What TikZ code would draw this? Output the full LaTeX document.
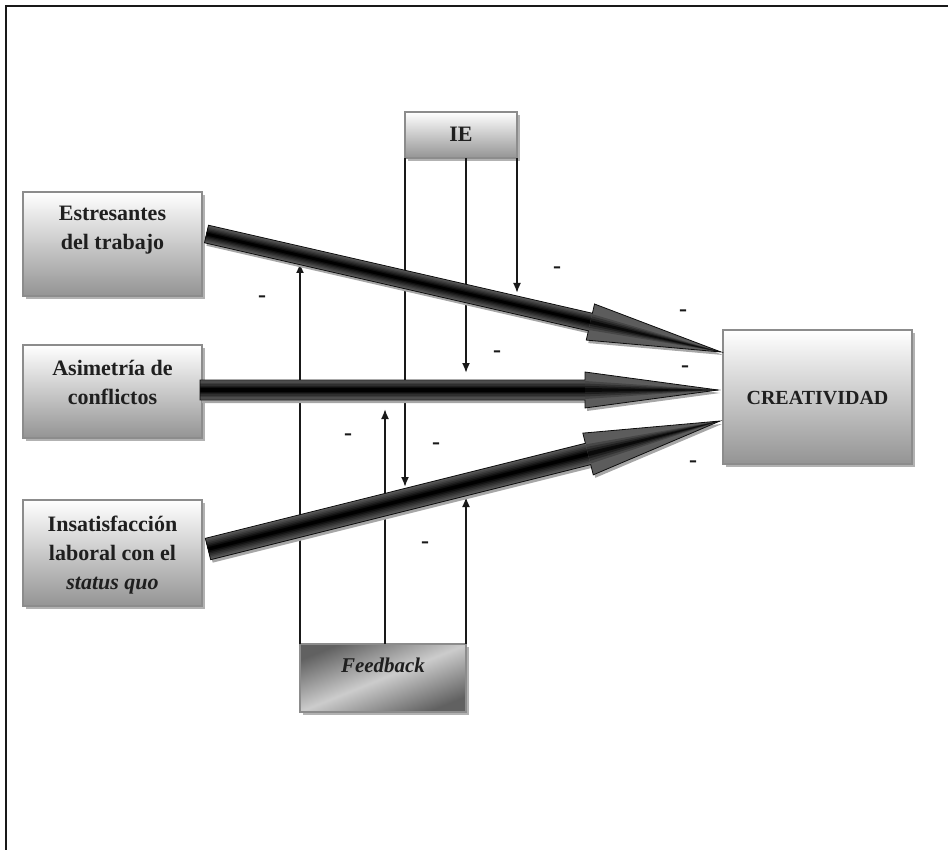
\documentclass[tikz,border=0pt]{standalone}
\usepackage{fontspec}
\setmainfont{Liberation Serif}
\usetikzlibrary{calc,arrows.meta,shadows}

\tikzset{
  boxshape/.style={draw=black!45, line width=1.4pt, top color=white, bottom color=black!42,
    inner sep=0pt, outer sep=0pt, drop shadow={shadow xshift=3pt, shadow yshift=-3pt, fill=black!30, opacity=1}},
  lbl/.style={font=\fontsize{22}{29}\selectfont\bfseries, align=center, text=black!88, inner sep=0pt},
  minus/.style={font=\fontsize{24}{24}\selectfont\bfseries, inner sep=0pt, text=black!90},
  thinline/.style={line width=1.8pt, draw=black!90},
  tipend/.style={-{Latex[length=10pt,width=8pt]}},
}

% #1 start, #2 tip, #3 shaft half width, #4 head half width, #5 head length (numbers, pt)
\newcommand{\barrow}[5]{%
  \coordinate (bB) at ($(#2)!#5pt!(#1)$);
  \coordinate (s1) at ($(#1)!#3pt!90:(#2)$);
  \coordinate (s2) at ($(#1)!#3pt!-90:(#2)$);
  \coordinate (b1) at ($(bB)!#3pt!90:(#2)$);
  \coordinate (b2) at ($(bB)!#3pt!-90:(#2)$);
  \coordinate (h1) at ($(bB)!#4pt!90:(#2)$);
  \coordinate (h2) at ($(bB)!#4pt!-90:(#2)$);
  \begin{scope}[transform canvas={shift={(2pt,-3pt)}}]
    \fill[black!35] (s1)--(b1)--(h1)--(#2)--(h2)--(b2)--(s2)--cycle;
  \end{scope}
  \foreach \f/\c in {1/64,0.86/70,0.72/76,0.58/82,0.44/88,0.3/94,0.16/100}{%
    \pgfmathsetmacro{\lw}{2*#3*\f}
    \draw[line width=\lw pt, black!\c, line cap=butt] (#1) -- (bB);
  }
  \fill[black!64] (h1)--(#2)--(h2)--cycle;
  \foreach \f/\c in {0.9/72,0.65/80,0.42/88,0.2/96}{%
    \pgfmathsetmacro{\hw}{#3*\f}
    \fill[black!\c] ($(bB)!\hw pt!90:(#2)$) -- (#2) -- ($(bB)!\hw pt!-90:(#2)$) -- cycle;
  }
  \draw[line width=0.8pt, black!95, line join=miter] (s1)--(b1)--(h1)--(#2)--(h2)--(b2)--(s2)--cycle;
}

\begin{document}
\begin{tikzpicture}[x=1pt,y=-1pt]
\useasboundingbox (0,0) rectangle (948,850);

% frame
\draw[line width=2pt, black!90] (6,850) -- (6,6) -- (948,6);

% end points of thin connectors
\coordinate (e1) at (405,487);
\coordinate (e2) at (466,373);
\coordinate (e3) at (517,293);
\coordinate (f1) at (300,263);
\coordinate (f2) at (385,409);
\coordinate (f3) at (466,497);

% boxes
\node[boxshape, minimum width=179pt, minimum height=104pt] (est) at (112.5,244) {};
\node[boxshape, minimum width=179pt, minimum height=93pt] (asi) at (112.5,391.5) {};
\node[boxshape, minimum width=179pt, minimum height=106pt] (ins) at (112.5,553) {};
\node[boxshape, minimum width=112pt, minimum height=46pt] (ie) at (461,135) {};
\node[boxshape, minimum width=189pt, minimum height=134pt] (cre) at (817.5,397) {};
\node[boxshape, top color=black!62, bottom color=black!62, middle color=black!20, shading angle=22,
      minimum width=166pt, minimum height=68pt] (fb) at (383,678) {};

% labels
\node[lbl] (estT) at (112.5,230) {Estresantes\\del trabajo};
\node[lbl] (asiT) at (112.5,382) {Asimetría de\\conflictos};
\node[lbl] (insT) at (112.5,555) {Insatisfacción\\laboral con el\\{\itshape status quo}};
\node[lbl] (ieT) at (461,134) {IE};
\node[lbl, font=\fontsize{20}{29}\selectfont\bfseries] (creT) at (817.5,398) {CREATIVIDAD};
\node[lbl, font=\fontsize{21}{29}\selectfont\bfseries\itshape] (fbT) at (383,665) {Feedback};

\draw[thinline, tipend] (ie.south west) -- (ie.south west |- e1);
\draw[thinline, tipend] (ie.south -| e2) -- (e2);
\draw[thinline, tipend] (ie.south east) -- (ie.south east |- e3);
\draw[thinline, tipend] (fb.north west) -- (fb.north west |- f1);
\draw[thinline, tipend] (fb.north -| f2) -- (f2);
\draw[thinline, tipend] (fb.north east) -- (fb.north east |- f3);

% block arrows
\coordinate (a1s) at ($(est.east)+(4.5,-10)$);
\coordinate (a1t) at ($(cre.north west)+(-2,22)$);
\coordinate (a2s) at ($(asi.east)+(-2,-1.5)$);
\coordinate (a2t) at ($(cre.west)+(-5,-7)$);
\coordinate (a3s) at ($(ins.east)+(6,-4)$);
\coordinate (a3t) at ($(cre.west)+(-3,24)$);
\barrow{a1s}{a1t}{9}{18.5}{134}
\barrow{a2s}{a2t}{10}{18}{133}
\barrow{a3s}{a3t}{11}{21.5}{136}

% minus signs
\node[minus] (m1) at (262,299) {-};
\node[minus] (m2) at (557,270) {-};
\node[minus] (m3) at (683,313) {-};
\node[minus] (m4) at (497,354) {-};
\node[minus] (m5) at (685,369) {-};
\node[minus] (m6) at (348,437) {-};
\node[minus] (m7) at (436,446) {-};
\node[minus] (m8) at (693,464) {-};
\node[minus] (m9) at (425,545) {-};
\end{tikzpicture}
\end{document}
